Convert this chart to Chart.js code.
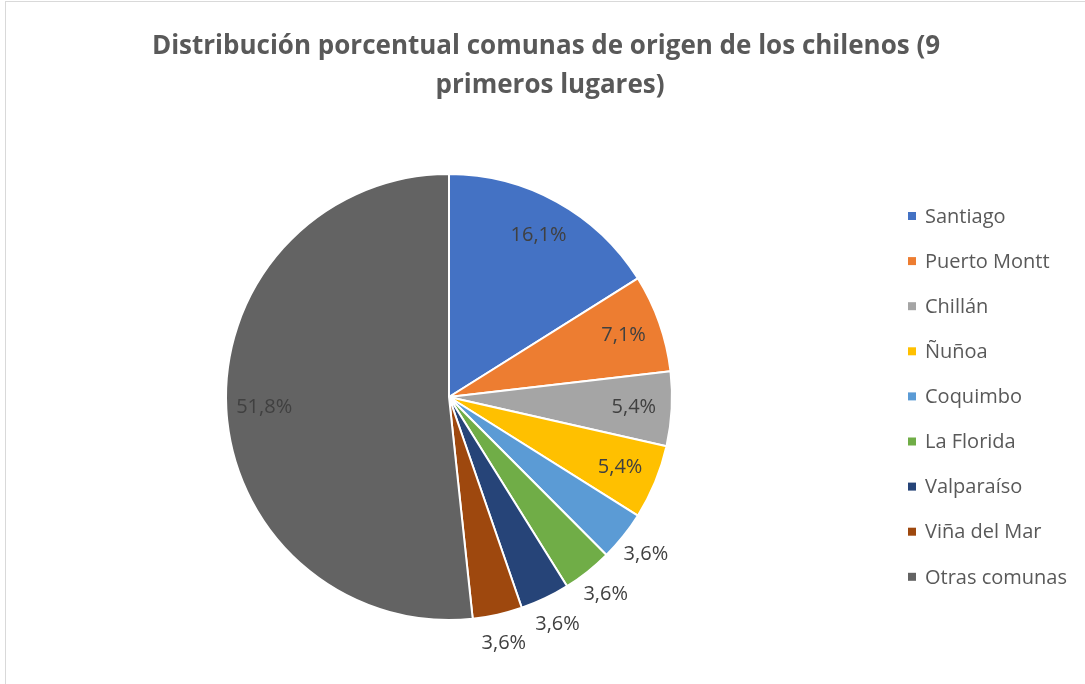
<!DOCTYPE html>
<html>
<head>
<meta charset="utf-8">
<script src="https://cdn.jsdelivr.net/npm/chart.js@4/dist/chart.umd.min.js"></script>
<style>
	html, body { margin: 0; padding: 0; background: #fff; overflow: hidden; }
	#frame { position: absolute; left: 5px; top: 1px; width: 1200px; height: 800px; border: 1px solid #d9d9d9; }
	#chart { position: absolute; left: 0; top: 0; }
</style>
</head>
<body>
<div id="frame"></div>
<canvas id="chart" width="1085" height="684"></canvas>
<script>
// Datos del gráfico
const comunas = ['Santiago', 'Puerto Montt', 'Chillán', 'Ñuñoa', 'Coquimbo', 'La Florida', 'Valparaíso', 'Viña del Mar', 'Otras comunas'];
const porcentajes = [16.1, 7.1, 5.4, 5.4, 3.6, 3.6, 3.6, 3.6, 51.8];
const colores = ['#4472C4', '#ED7D31', '#A5A5A5', '#FFC000', '#5B9BD5', '#70AD47', '#264478', '#9E480E', '#636363'];
const titulo = ['Distribución porcentual comunas de origen de los chilenos (9', 'primeros lugares)'];

const fontFamily = '"Open Sans", "Noto Sans", sans-serif';
const textColor = '#404040';

const formatPct = (v) => v.toFixed(1).replace('.', ',') + '%';

// Titulo y leyenda dibujados a mano
const titleLegend = {
	id: 'titleLegend',
	afterDraw(chart) {
		const ctx = chart.ctx;
		ctx.save();
		ctx.fillStyle = '#595959';
		ctx.font = 'bold 26px ' + fontFamily;
		ctx.textAlign = 'center';
		ctx.textBaseline = 'middle';
		ctx.fillText(titulo[0], 546, 47);
		ctx.fillText(titulo[1], 550, 86);

		ctx.font = '20px ' + fontFamily;
		ctx.textAlign = 'left';
		chart.data.labels.forEach((label, i) => {
			const y = 216 + i * 45.1;
			ctx.fillStyle = colores[i];
			ctx.fillRect(908, y - 4, 8, 8);
			ctx.fillStyle = '#595959';
			ctx.fillText(label, 925, y + 1);
		});
		ctx.restore();
	}
};

// Etiquetas de datos
const dataLabels = {
	id: 'dataLabels',
	afterDatasetsDraw(chart) {
		const ctx = chart.ctx;
		const meta = chart.getDatasetMeta(0);
		ctx.save();
		ctx.font = '20px ' + fontFamily;
		ctx.fillStyle = textColor;
		ctx.textAlign = 'center';
		ctx.textBaseline = 'middle';
		meta.data.forEach((arc, i) => {
			const p = arc.getProps(['x', 'y', 'startAngle', 'endAngle', 'outerRadius'], true);
			const angle = (p.startAngle + p.endAngle) / 2;
			// small slices get their label outside the pie
			const r = porcentajes[i] < 4 ? p.outerRadius * 1.13 : p.outerRadius * 0.83;
			ctx.fillText(formatPct(porcentajes[i]), p.x + r * Math.cos(angle), p.y + r * Math.sin(angle));
		});
		ctx.restore();
	}
};

new Chart(document.getElementById('chart'), {
	type: 'pie',
	data: {
		labels: comunas,
		datasets: [{
			data: porcentajes,
			backgroundColor: colores,
			borderColor: '#ffffff',
			borderWidth: 2
		}]
	},
	options: {
		responsive: false,
		animation: false,
		layout: { padding: { left: 225, right: 412, top: 173, bottom: 63 } },
		plugins: {
			legend: { display: false },
			title: { display: false },
			tooltip: { enabled: false }
		}
	},
	plugins: [dataLabels, titleLegend]
});
</script>
</body>
</html>
